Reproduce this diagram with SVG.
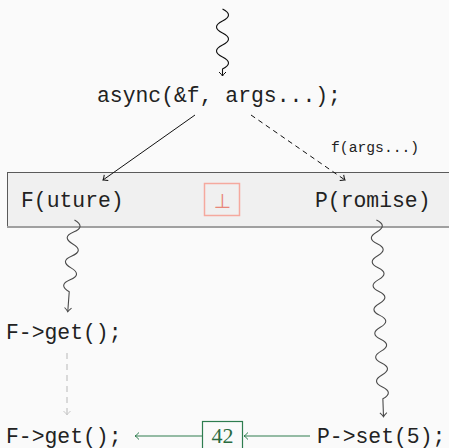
<svg xmlns="http://www.w3.org/2000/svg" width="449" height="448" viewBox="0 0 449 448">
<style>
.code{font-family:"Liberation Mono","DejaVu Sans Mono",monospace;font-size:21.4px;fill:#222}
.small{font-family:"Liberation Mono","DejaVu Sans Mono",monospace;font-size:14.7px;fill:#222}
.wave{fill:none;stroke-width:1.1}
</style>
<defs>
<marker id="ahK" viewBox="-5 -5 6 10" refX="0" refY="0" markerWidth="6" markerHeight="10" markerUnits="userSpaceOnUse" orient="auto"><path d="M-4,-3.5 Q-1.5,-0.8 0,0 Q-1.5,0.8 -4,3.5" fill="none" stroke="#111" stroke-width="1"/></marker>
<marker id="ahG" viewBox="-5 -5 6 10" refX="0" refY="0" markerWidth="6" markerHeight="10" markerUnits="userSpaceOnUse" orient="auto"><path d="M-4,-3.5 Q-1.5,-0.8 0,0 Q-1.5,0.8 -4,3.5" fill="none" stroke="#4a4a4a" stroke-width="1"/></marker>
<marker id="ahL" viewBox="-5 -5 6 10" refX="0" refY="0" markerWidth="6" markerHeight="10" markerUnits="userSpaceOnUse" orient="auto"><path d="M-4,-3.5 Q-1.5,-0.8 0,0 Q-1.5,0.8 -4,3.5" fill="none" stroke="#c8c8c8" stroke-width="1"/></marker>
<marker id="ahV" viewBox="-5 -5 6 10" refX="0" refY="0" markerWidth="6" markerHeight="10" markerUnits="userSpaceOnUse" orient="auto"><path d="M-4,-3.5 Q-1.5,-0.8 0,0 Q-1.5,0.8 -4,3.5" fill="none" stroke="#2e7d4f" stroke-width="1"/></marker>
</defs>
<rect x="0" y="0" width="449" height="448" fill="#fafafa"/>

<g id="state-box">
<rect x="7.5" y="172.5" width="460" height="54" fill="#f0f0f0" stroke="#5a5a5a" stroke-width="1"/>
<line x1="7" y1="227" x2="449" y2="227" stroke="#a0a0a0" stroke-width="2"/>
</g>

<g id="node-async"><text class="code" x="97" y="102">async(&amp;f, args...);</text></g>
<g id="node-future"><text class="code" x="21" y="207">F(uture)</text></g>
<g id="node-bottom">
<rect x="204.5" y="183.5" width="35" height="32" fill="none" stroke="#f5a99e" stroke-width="1.5"/>
<text x="222.3" y="208" text-anchor="middle" font-family="DejaVu Sans, sans-serif" font-size="20" fill="#e8877a">⊥</text>
</g>
<g id="node-promise"><text class="code" x="315" y="207">P(romise)</text></g>
<g id="node-get1"><text class="code" x="6" y="339">F->get();</text></g>
<g id="node-get2"><text class="code" x="6" y="443">F->get();</text></g>
<g id="node-set"><text class="code" x="317" y="443">P->set(5);</text></g>
<g id="node-value">
<rect x="202.5" y="421.5" width="40" height="32" fill="#fafafa" stroke="#2e7d4f" stroke-width="1.2"/>
<text x="222.5" y="443" text-anchor="middle" font-family="Liberation Serif, serif" font-size="22" fill="#2a6b40">42</text>
</g>

<g id="connectors">
<path class="wave" stroke="#111" marker-end="url(#ahK)" d="M222.5,9 c8,4 8,8 0,12 c-8,4 -8,8 0,12 c8,4 8,8 0,12 c-8,4 -8,8 0,12 c8,4 8,8 0,12 l0,7"/>
<line x1="195" y1="115" x2="103" y2="180" stroke="#111" stroke-width="1" marker-end="url(#ahK)"/>
<line x1="251" y1="115" x2="345" y2="180" stroke="#111" stroke-width="1" stroke-dasharray="5,4" marker-end="url(#ahK)"/>
<text class="small" x="331" y="152">f(args...)</text>
<path class="wave" stroke="#4a4a4a" marker-end="url(#ahG)" transform="translate(74.5,220) rotate(4.2)" d="M0,0 c8,4 8,8 0,12 c-8,4 -8,8 0,12 c8,4 8,8 0,12 c-8,4 -8,8 0,12 c8,4 8,8 0,12 c-8,4 -8,8 0,12 l0,20"/>
<path class="wave" stroke="#4a4a4a" marker-end="url(#ahG)" transform="translate(376.4,220) rotate(-2.07)" d="M0,0 c7.6,3.98 7.6,7.95 0,11.93 c-7.6,3.98 -7.6,7.95 0,11.93 c7.6,3.98 7.6,7.95 0,11.93 c-7.6,3.98 -7.6,7.95 0,11.93 c7.6,3.98 7.6,7.95 0,11.93 c-7.6,3.98 -7.6,7.95 0,11.93 c7.6,3.98 7.6,7.95 0,11.93 c-7.6,3.98 -7.6,7.95 0,11.93 c7.6,3.98 7.6,7.95 0,11.93 c-7.6,3.98 -7.6,7.95 0,11.93 c7.6,3.98 7.6,7.95 0,11.93 c-7.6,3.98 -7.6,7.95 0,11.93 c7.6,3.98 7.6,7.95 0,11.93 c-7.6,3.98 -7.6,7.95 0,11.93 c7.6,3.98 7.6,7.95 0,11.93 l0,18"/>
<line x1="67" y1="353" x2="67" y2="415" stroke="#c8c8c8" stroke-width="1.3" stroke-dasharray="6,5" marker-end="url(#ahL)"/>
<line x1="310" y1="436" x2="244" y2="436" stroke="#2e7d4f" stroke-width="1.1" marker-end="url(#ahV)"/>
<line x1="202" y1="436" x2="135" y2="436" stroke="#2e7d4f" stroke-width="1.1" marker-end="url(#ahV)"/>
</g>
</svg>
